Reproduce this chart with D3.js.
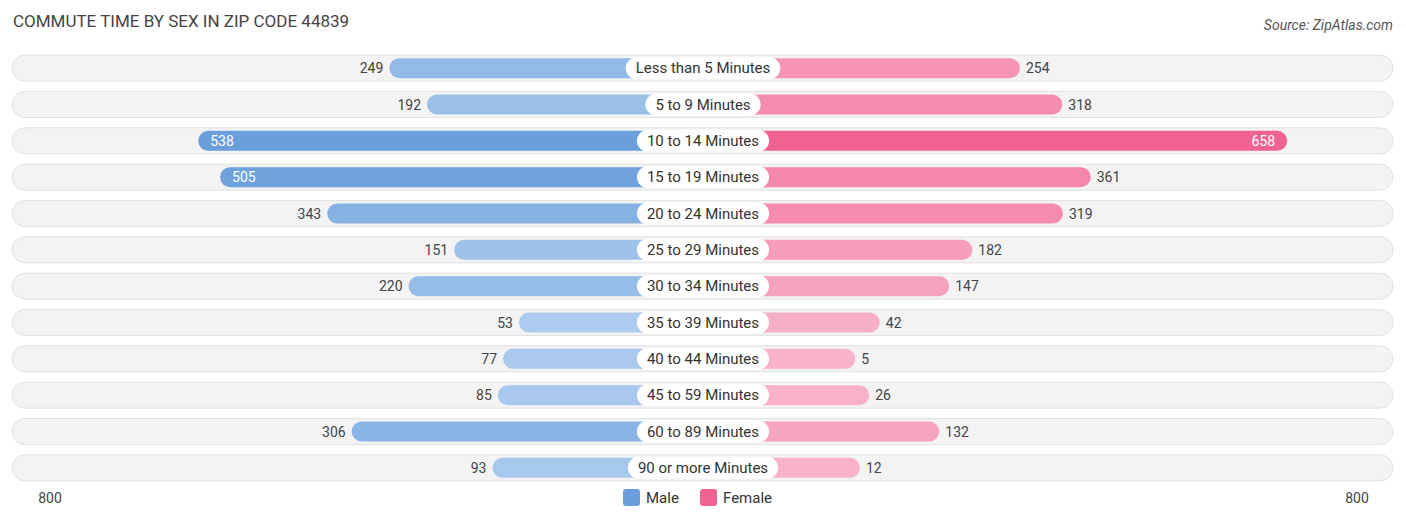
<!DOCTYPE html>
<html>
<head>
<meta charset="utf-8">
<script src="https://cdn.jsdelivr.net/npm/d3@7"></script>
<style>
body { margin: 0; background: #fff; font-family: Roboto, "Open Sans", sans-serif; }
</style>
</head>
<body>
<svg id="chart" width="1406" height="523"></svg>
<script>
'use strict';

const categories = ["Less than 5 Minutes", "5 to 9 Minutes", "10 to 14 Minutes", "15 to 19 Minutes",
    "20 to 24 Minutes", "25 to 29 Minutes", "30 to 34 Minutes", "35 to 39 Minutes",
    "40 to 44 Minutes", "45 to 59 Minutes", "60 to 89 Minutes", "90 or more Minutes"];
const male = [249, 192, 538, 505, 343, 151, 220, 53, 77, 85, 306, 93];
const female = [254, 318, 658, 361, 319, 182, 147, 42, 5, 26, 132, 12];
const axisMax = 800;

const svg = d3.select('#chart');
const cx = 703, offset = 149;

// bar length grows from the label box outward
const len = d3.scaleLinear().domain([0, axisMax]).range([offset, offset + 529]);
const y = d3.scaleBand().domain(categories).range([50, 486]).paddingInner(0.28).paddingOuter(0.14);
const maleCol = d3.scaleLinear().domain([0, 538]).range(['#b4d0f0', '#6a9fdc']);
const femaleCol = d3.scaleLinear().domain([0, 658]).range(['#f8b4ca', '#f06292']);

svg.append('text').attr('x', 13).attr('y', 27)
   .attr('font-size', 17).attr('fill', '#444')
   .text('COMMUTE TIME BY SEX IN ZIP CODE 44839');
svg.append('text').attr('x', 1393).attr('y', 30).attr('text-anchor', 'end')
   .attr('font-size', 14).attr('font-style', 'italic').attr('fill', '#555')
   .text('Source: ZipAtlas.com');

const rows = svg.selectAll('g.row').data(categories).enter().append('g')
    .attr('transform', d => `translate(0,${y(d) + y.bandwidth() / 2})`);

rows.append('rect').attr('x', 12).attr('y', -13).attr('width', 1381).attr('height', 26)
    .attr('rx', 13).attr('fill', '#f3f3f3').attr('stroke', '#e2e2e2');

rows.append('rect')
    .attr('x', (d, i) => cx - len(male[i])).attr('y', -10)
    .attr('width', (d, i) => len(male[i])).attr('height', 20).attr('rx', 10)
    .attr('fill', (d, i) => maleCol(male[i]));
rows.append('rect')
    .attr('x', cx).attr('y', -10)
    .attr('width', (d, i) => len(female[i])).attr('height', 20).attr('rx', 10)
    .attr('fill', (d, i) => femaleCol(female[i]));

// category label pill
rows.each(function(d) {
    const g = d3.select(this);
    const t = g.append('text').attr('x', cx).attr('y', 5).attr('text-anchor', 'middle')
        .attr('font-size', 15).attr('fill', '#333').text(d);
    const w = t.node().getComputedTextLength() + 20;
    g.insert('rect', function() { return t.node(); })
        .attr('x', cx - w / 2).attr('y', -11).attr('width', w).attr('height', 22)
        .attr('rx', 11).attr('fill', '#fff');
});

rows.append('text')
    .attr('x', (d, i) => male[i] > 450 ? cx - len(male[i]) + 12 : cx - len(male[i]) - 6)
    .attr('y', 5)
    .attr('text-anchor', (d, i) => male[i] > 450 ? 'start' : 'end')
    .attr('font-size', 14)
    .attr('fill', (d, i) => male[i] > 450 ? '#fff' : '#444')
    .text((d, i) => male[i]);
rows.append('text')
    .attr('x', (d, i) => female[i] > 450 ? cx + len(female[i]) - 12 : cx + len(female[i]) + 6)
    .attr('y', 5)
    .attr('text-anchor', (d, i) => female[i] > 450 ? 'end' : 'start')
    .attr('font-size', 14)
    .attr('fill', (d, i) => female[i] > 450 ? '#fff' : '#444')
    .text((d, i) => female[i]);

svg.append('text').attr('x', 50).attr('y', 503).attr('text-anchor', 'middle')
   .attr('font-size', 14).attr('fill', '#444').text(axisMax);
svg.append('text').attr('x', 1357).attr('y', 503).attr('text-anchor', 'middle')
   .attr('font-size', 14).attr('fill', '#444').text(axisMax);

const legend = [{k: 'Male', c: '#6a9fdc', x: 623}, {k: 'Female', c: '#f06292', x: 700}];
const lg = svg.selectAll('g.lg').data(legend).enter().append('g');
lg.append('rect').attr('x', d => d.x).attr('y', 489).attr('width', 17).attr('height', 17)
  .attr('rx', 3).attr('fill', d => d.c);
lg.append('text').attr('x', d => d.x + 23).attr('y', 503).attr('font-size', 15)
  .attr('fill', '#333').text(d => d.k);
</script>
</body>
</html>
